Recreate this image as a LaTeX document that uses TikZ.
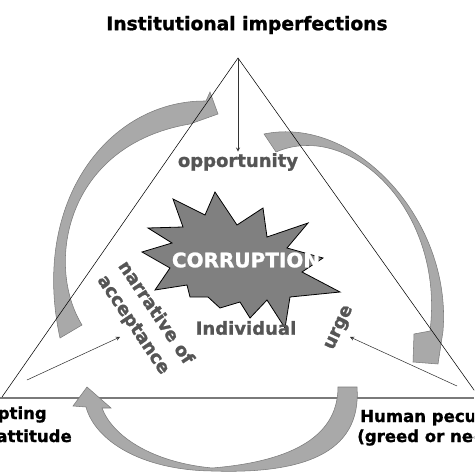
\documentclass[tikz,border=0pt]{standalone}
\usepackage{fontspec}
\setmainfont{DejaVu Sans}[BoldFeatures={FakeBold=1.2}]
\definecolor{txtgray}{HTML}{555555}
\definecolor{arrowgray}{HTML}{A9A9A9}
\definecolor{edgegray}{HTML}{7A7A7A}
\definecolor{stargray}{HTML}{808080}
\tikzset{
  lbl/.style={font=\bfseries\fontsize{13.5}{15}\selectfont, text=txtgray, inner sep=1pt},
  corner/.style={font=\bfseries\fontsize{12.4}{14}\selectfont, inner sep=0pt},
  bigarrow/.style={fill=arrowgray, draw=edgegray, line width=0.4pt},
  thinarrow/.style={->, draw=black!80, line width=0.4pt},
}
\begin{document}
\begin{tikzpicture}[x=0.75pt,y=-0.75pt,>=stealth]
\useasboundingbox (0,0) rectangle (474,474);
\clip (0,0) rectangle (474,474);
% corners of the triangle
\coordinate (apex) at (238,58);
\coordinate (lv) at (2,397);
\coordinate (rv) at (479,397);
\draw[edgegray, line width=1.1pt] (0,398) -- (474,398);
% big curved arrows
\draw[bigarrow] (60,338) -- (82,325)
  .. controls (45,265) and (65,145) .. (190,124)
  -- (218,114) -- (210,92) -- (206,101)
  .. controls (110,100) and (30,200) .. (60,338) -- cycle;
\draw[bigarrow] (264,134) -- (276,152)
  .. controls (350,120) and (445,210) .. (430,331)
  -- (414,334) -- (413,362) -- (438,364) -- (443,331)
  .. controls (452,220) and (355,115) .. (264,134) -- cycle;
\draw[bigarrow] (338,387) -- (357,387)
  .. controls (362,455) and (300,474) .. (212,471)
  .. controls (140,470) and (95,440) .. (86,407)
  -- (73,406) -- (87,387) -- (111,408) -- (102,408)
  .. controls (112,435) and (150,462) .. (212,468)
  .. controls (285,462) and (338,440) .. (338,387) -- cycle;
% triangle sides
\draw[line width=0.4pt] (lv) -- (apex) -- (rv);
% the burst
\draw[fill=stargray, line width=0.6pt] (215,192) -- (237,225) -- (263,208) -- (267,237)
  -- (308,223) -- (287,248) -- (323,258) -- (302,272) -- (340,292) -- (290,297)
  -- (285,328) -- (267,300) -- (250,318) -- (240,302) -- (220,308) -- (208,297)
  -- (190,297) -- (187,285) -- (155,290) -- (170,268) -- (142,252) -- (172,243)
  -- (148,228) -- (183,227) -- (173,199) -- (205,215) -- cycle;
\node[font=\bfseries\fontsize{15}{17}\selectfont, text=white, inner sep=0pt] (corr) at (246,260) {CORRUPTION};
% labels
\node[font=\bfseries\fontsize{14}{16}\selectfont, inner sep=0pt] (inst) at (247,25) {Institutional imperfections};
\node[lbl] (opp) at (238,162) {opportunity};
\node[lbl] (indiv) at (246,328) {Individual};
\node[lbl, rotate=65] (urge) at (340,328) {urge};
\node[lbl, rotate=-56, align=left, font=\bfseries\fontsize{13.5}{18.8}\selectfont] (narr) at (145,320) {narrative of\\acceptance};
\node[corner, anchor=base east] (acc1) at (47,419) {Accepting};
\node[corner, anchor=base east] (acc2) at (72,442) {attitude};
\node[corner, anchor=base west] (hum1) at (360,422) {Human peculiarity};
\node[corner, anchor=base west] (hum2) at (357,442) {(greed or need)};
% thin arrows
\coordinate (la) at (27,380);
\coordinate (lb) at (120,337);
\coordinate (ra) at (457,386);
\coordinate (rb) at (350,337);
\draw[thinarrow] (apex) -- (opp);
\draw[thinarrow] (la) -- (lb);
\draw[thinarrow] (ra) -- (rb);
\end{tikzpicture}
\end{document}
